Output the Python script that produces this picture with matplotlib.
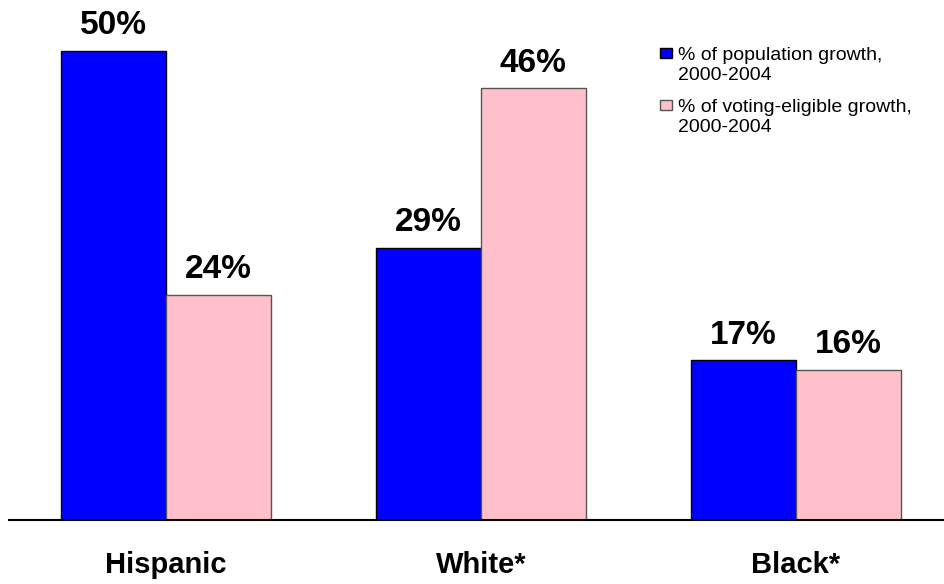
import matplotlib
matplotlib.use("Agg")
import matplotlib.pyplot as plt
from matplotlib.patches import Rectangle
import numpy as np

categories = ["Hispanic", "White*", "Black*"]
population_growth = [50, 29, 17]
voting_eligible_growth = [24, 46, 16]
series_labels = ["% of population growth,\n2000-2004",
                 "% of voting-eligible growth,\n2000-2004"]
series_colors = ["#0000FF", "#FFC0CB"]
series_edges = ["black", "#555555"]

plt.rcParams['font.family'] = ['Liberation Sans', 'DejaVu Sans']

W, H = 944, 584
fig = plt.figure(figsize=(W / 100, H / 100), dpi=100)
ax = fig.add_axes([9 / W, 64 / H, 935 / W, 520 / H])

x = np.arange(len(categories))
w = 1 / 3
b1 = ax.bar(x - w / 2, population_growth, width=w, color=series_colors[0],
            edgecolor=series_edges[0], linewidth=1.0)
b2 = ax.bar(x + w / 2, voting_eligible_growth, width=w, color=series_colors[1],
            edgecolor=series_edges[1], linewidth=1.0)

for bars, vals in ((b1, population_growth), (b2, voting_eligible_growth)):
    for rect, v in zip(bars, vals):
        ax.annotate(f"{v}%", (rect.get_x() + rect.get_width() / 2, v),
                    xytext=(0, 18), textcoords="offset points",
                    ha="center", va="center", fontsize=24, fontweight="bold")

ax.set_xlim(-0.498, 2.47)
ax.set_ylim(0, 55.4)
ax.set_xticks(x)
ax.set_xticklabels(categories, fontsize=21, fontweight="bold")
ax.tick_params(axis="x", length=0, pad=22)
ax.set_yticks([])
for s in ("left", "right", "top"):
    ax.spines[s].set_visible(False)
ax.spines["bottom"].set_linewidth(1.5)

# legend: small square beside the first line of each two-line label
for i, (lab, col, ec) in enumerate(zip(series_labels, series_colors, series_edges)):
    top = 48 + 52 * i
    fig.patches.append(Rectangle((660 / W, 1 - (top + 10) / H), 12 / W, 10 / H,
                                 transform=fig.transFigure, facecolor=col,
                                 edgecolor=ec, linewidth=1.0))
    fig.text(678 / W, 1 - (top - 1) / H, lab, fontsize=14, ha="left", va="top",
             linespacing=1.25)

fig.savefig("out.png", dpi=100)
